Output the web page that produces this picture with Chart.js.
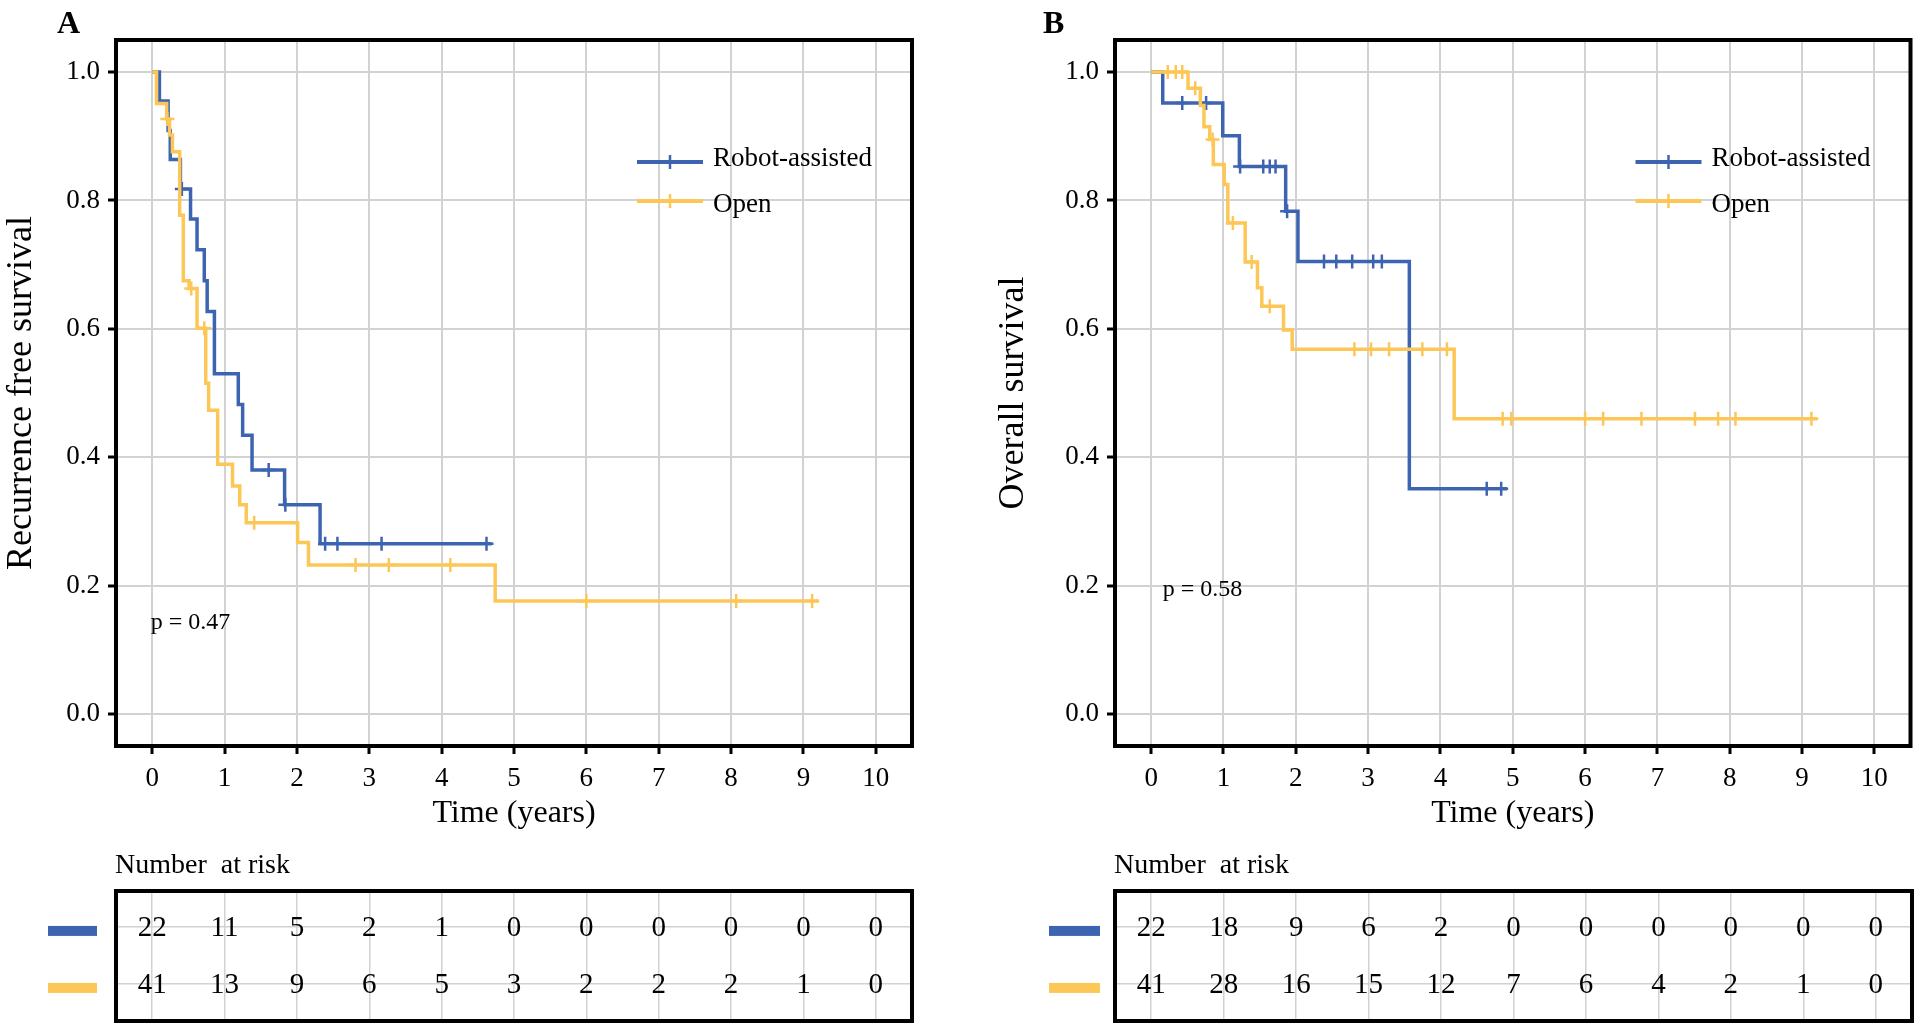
<!DOCTYPE html>
<html>
<head>
<meta charset="utf-8">
<script src="https://cdn.jsdelivr.net/npm/chart.js@4.4.1/dist/chart.umd.min.js"></script>
<style>
html, body { margin: 0; padding: 0; background: #fff; }
#wrap { position: relative; width: 1920px; height: 1030px; overflow: hidden; }
canvas { position: absolute; }
</style>
</head>
<body>
<div id="wrap">
  <canvas id="km-a" width="960" height="850" style="left:0;top:0"></canvas>
  <canvas id="km-b" width="960" height="850" style="left:960px;top:0"></canvas>
  <canvas id="risk-a" width="960" height="190" style="left:0;top:840px"></canvas>
  <canvas id="risk-b" width="960" height="190" style="left:960px;top:840px"></canvas>
</div>
<script>
// ---- data ----
const timeTicks = [0, 1, 2, 3, 4, 5, 6, 7, 8, 9, 10];
const survTicks = [0, 0.2, 0.4, 0.6, 0.8, 1.0];
const groups    = ['Robot-assisted', 'Open'];

// A: recurrence free survival (step times / survival after each step / censor times)
const rfsRobotTime = [0, 0.10, 0.22, 0.25, 0.39, 0.53, 0.62, 0.72, 0.76, 0.86, 1.19, 1.25, 1.38, 1.83, 2.32, 4.69];
const rfsRobotSurv = [1, 0.955, 0.909, 0.864, 0.818, 0.771, 0.723, 0.675, 0.627, 0.530, 0.482, 0.434, 0.380, 0.326, 0.265, 0.265];
const rfsRobotCens = [0.41, 1.61, 1.84, 2.39, 2.56, 3.17, 4.62];

const rfsOpenTime = [0, 0.06, 0.20, 0.24, 0.28, 0.38, 0.43, 0.51, 0.62, 0.74, 0.78, 0.905, 1.11, 1.21, 1.30, 2.01, 2.16, 4.74, 9.21];
const rfsOpenSurv = [1, 0.951, 0.927, 0.902, 0.876, 0.777, 0.675, 0.663, 0.601, 0.515, 0.473, 0.389, 0.355, 0.326, 0.298, 0.267, 0.232, 0.176, 0.176];
const rfsOpenCens = [0.21, 0.54, 0.72, 1.41, 2.81, 3.27, 4.12, 6.00, 8.07, 9.12];

// B: overall survival
const osRobotTime = [0, 0.16, 0.99, 1.22, 1.86, 2.03, 3.57, 4.92];
const osRobotSurv = [1, 0.952, 0.901, 0.853, 0.783, 0.705, 0.351, 0.351];
const osRobotCens = [0.43, 0.76, 1.23, 1.55, 1.64, 1.72, 1.88, 2.39, 2.56, 2.78, 3.07, 3.19, 4.64, 4.84];

const osOpenTime = [0, 0.51, 0.68, 0.73, 0.81, 0.86, 1.01, 1.06, 1.30, 1.47, 1.53, 1.83, 1.95, 4.19, 9.21];
const osOpenSurv = [1, 0.975, 0.948, 0.915, 0.895, 0.856, 0.825, 0.765, 0.704, 0.664, 0.635, 0.598, 0.568, 0.460, 0.460];
const osOpenCens = [0.23, 0.34, 0.43, 0.61, 0.85, 1.13, 1.39, 1.64, 2.81, 3.04, 3.29, 3.75, 4.09, 4.86, 4.98, 6.00, 6.25, 6.78, 7.52, 7.84, 8.08, 9.13];

// number at risk at each time tick
const rfsRiskRobot = [22, 11, 5, 2, 1, 0, 0, 0, 0, 0, 0];
const rfsRiskOpen  = [41, 13, 9, 6, 5, 3, 2, 2, 2, 1, 0];
const osRiskRobot  = [22, 18, 9, 6, 2, 0, 0, 0, 0, 0, 0];
const osRiskOpen   = [41, 28, 16, 15, 12, 7, 6, 4, 2, 1, 0];

// ---- styling ----
const BLUE   = '#3d64b1';
const YELLOW = '#fcc756';
const GRID   = '#d2d2d2';
const SERIF  = '"Liberation Serif", "Times New Roman", serif';

Chart.defaults.font.family = SERIF;
Chart.defaults.color = '#000';

function survAt(times, surv, t) {
    let s = surv[0];
    times.forEach((tt, i) => { if (tt <= t) s = surv[i]; });
    return s;
}

function curve(times, surv, color) {
    return {
        data: times.map((t, i) => ({ x: t, y: surv[i] })),
        showLine: true, stepped: true,
        borderColor: color, borderWidth: 3.5,
        pointRadius: 0, pointHoverRadius: 0,
    };
}

function censors(cens, times, surv, color) {
    return {
        data: cens.map(t => ({ x: t, y: survAt(times, surv, t) })),
        showLine: false,
        pointStyle: 'cross', pointRadius: 7, pointHoverRadius: 7,
        borderColor: color, borderWidth: 2.5,
    };
}

function kmChart(id, cfg) {
    const frame = {
        id: 'kmExtras',
        afterDraw(chart) {
            const { ctx, chartArea: a, scales: { x, y } } = chart;
            ctx.save();
            ctx.strokeStyle = '#000';
            ctx.lineWidth = 4;
            ctx.strokeRect(a.left, a.top, a.right - a.left, a.bottom - a.top);

            ctx.fillStyle = '#000';
            ctx.textAlign = 'left';
            ctx.textBaseline = 'alphabetic';
            ctx.font = `bold 32px ${SERIF}`;
            ctx.fillText(cfg.letter, cfg.letterX, 33);

            ctx.font = `24px ${SERIF}`;
            ctx.fillText(cfg.pText, x.getPixelForValue(cfg.pAt[0]), y.getPixelForValue(cfg.pAt[1]));

            // legend
            [BLUE, YELLOW].forEach((c, i) => {
                const ly = a.top + 122 + i * 39;
                const x0 = a.right - 275, x1 = a.right - 209;
                ctx.strokeStyle = c;
                ctx.lineWidth = 4;
                ctx.beginPath(); ctx.moveTo(x0, ly); ctx.lineTo(x1, ly); ctx.stroke();
                ctx.lineWidth = 2.5;
                ctx.beginPath(); ctx.moveTo((x0 + x1) / 2, ly - 7); ctx.lineTo((x0 + x1) / 2, ly + 7); ctx.stroke();
                ctx.fillStyle = '#000';
                ctx.font = `27px ${SERIF}`;
                ctx.fillText(groups[i], a.right - 199, a.top + 126 + i * 45.5);
            });
            ctx.restore();
        },
    };

    return new Chart(document.getElementById(id), {
        type: 'scatter',
        data: { datasets: cfg.datasets },
        options: {
            responsive: false, animation: false, devicePixelRatio: 1, events: [],
            layout: { padding: { top: 40, right: cfg.padRight, left: 0, bottom: 0 } },
            plugins: { legend: { display: false }, tooltip: { enabled: false } },
            scales: {
                x: {
                    type: 'linear', min: -0.5, max: 10.5,
                    afterBuildTicks: s => { s.ticks = timeTicks.map(v => ({ value: v })); },
                    afterFit: s => { s.height = 104; },
                    grid: { color: GRID, lineWidth: 2, tickColor: '#000', tickLength: 8, tickWidth: 3 },
                    border: { display: false },
                    ticks: { font: { family: SERIF, size: 27 }, padding: 9, autoSkip: false, maxRotation: 0 },
                    title: { display: true, text: 'Time (years)', font: { family: SERIF, size: 32 }, padding: { top: 0, bottom: 17 } },
                },
                y: {
                    type: 'linear', min: -0.05, max: 1.05,
                    afterBuildTicks: s => { s.ticks = survTicks.map(v => ({ value: v })); },
                    afterFit: s => { s.width = cfg.axisWidth; },
                    grid: { color: GRID, lineWidth: 2, tickColor: '#000', tickLength: 8, tickWidth: 3 },
                    border: { display: false },
                    ticks: { font: { family: SERIF, size: 27 }, padding: 8, callback: v => v.toFixed(1) },
                    title: { display: true, text: cfg.yTitle, font: { family: SERIF, size: 36 }, padding: { top: cfg.titlePad, bottom: 0 } },
                },
            },
        },
        plugins: [frame],
    });
}

function riskChart(id, cfg) {
    const table = {
        id: 'riskTable',
        afterDraw(chart) {
            const { ctx, chartArea: a, scales: { x, y } } = chart;
            ctx.save();
            ctx.strokeStyle = '#000';
            ctx.lineWidth = 4;
            ctx.strokeRect(a.left, a.top, a.right - a.left, a.bottom - a.top);

            ctx.fillStyle = '#000';
            ctx.font = `28px ${SERIF}`;
            ctx.textAlign = 'left';
            ctx.textBaseline = 'alphabetic';
            ctx.fillText('Number  at risk', a.left - 1, 33);

            const rows = [cfg.robot, cfg.open];
            const colors = [BLUE, YELLOW];
            rows.forEach((vals, r) => {
                const rowY = y.getPixelForValue(1 - r);
                ctx.fillStyle = colors[r];
                ctx.fillRect(cfg.swatch[0], rowY - 1, cfg.swatch[1] - cfg.swatch[0], 10);
                ctx.fillStyle = '#000';
                ctx.font = `29px ${SERIF}`;
                ctx.textAlign = 'center';
                ctx.textBaseline = 'middle';
                vals.forEach((n, i) => ctx.fillText(String(n), x.getPixelForValue(timeTicks[i]), rowY + 1));
            });
            ctx.restore();
        },
    };

    return new Chart(document.getElementById(id), {
        type: 'scatter',
        data: { datasets: [] },
        options: {
            responsive: false, animation: false, devicePixelRatio: 1, events: [],
            layout: { padding: { top: 51, right: cfg.padRight, left: 0, bottom: 9 } },
            plugins: { legend: { display: false }, tooltip: { enabled: false } },
            scales: {
                x: {
                    type: 'linear', min: -0.5, max: 10.5,
                    afterBuildTicks: s => { s.ticks = timeTicks.map(v => ({ value: v })); },
                    afterFit: s => { s.height = 0; },
                    grid: { color: GRID, lineWidth: 1.5, drawTicks: false },
                    border: { display: false },
                    ticks: { display: false },
                },
                y: {
                    type: 'linear', min: -0.65, max: 1.63,
                    afterBuildTicks: s => { s.ticks = [0, 1].map(v => ({ value: v })); },
                    afterFit: s => { s.width = cfg.axisWidth; },
                    grid: { color: GRID, lineWidth: 1.5, drawTicks: false },
                    border: { display: false },
                    ticks: { display: false },
                },
            },
        },
        plugins: [table],
    });
}

kmChart('km-a', {
    letter: 'A', letterX: 57, axisWidth: 116, padRight: 48, titlePad: 0,
    yTitle: 'Recurrence free survival', pText: 'p = 0.47', pAt: [-0.02, 0.132],
    datasets: [
        curve(rfsOpenTime, rfsOpenSurv, YELLOW),
        censors(rfsOpenCens, rfsOpenTime, rfsOpenSurv, YELLOW),
        curve(rfsRobotTime, rfsRobotSurv, BLUE),
        censors(rfsRobotCens, rfsRobotTime, rfsRobotSurv, BLUE),
    ],
});

kmChart('km-b', {
    letter: 'B', letterX: 83, axisWidth: 155, padRight: 8, titlePad: 32,
    yTitle: 'Overall survival', pText: 'p = 0.58', pAt: [0.16, 0.184],
    datasets: [
        curve(osOpenTime, osOpenSurv, YELLOW),
        censors(osOpenCens, osOpenTime, osOpenSurv, YELLOW),
        curve(osRobotTime, osRobotSurv, BLUE),
        censors(osRobotCens, osRobotTime, osRobotSurv, BLUE),
    ],
});

riskChart('risk-a', { axisWidth: 116, padRight: 48, swatch: [48, 97], robot: rfsRiskRobot, open: rfsRiskOpen });
riskChart('risk-b', { axisWidth: 155, padRight: 8, swatch: [89, 140], robot: osRiskRobot, open: osRiskOpen });
</script>
</body>
</html>
